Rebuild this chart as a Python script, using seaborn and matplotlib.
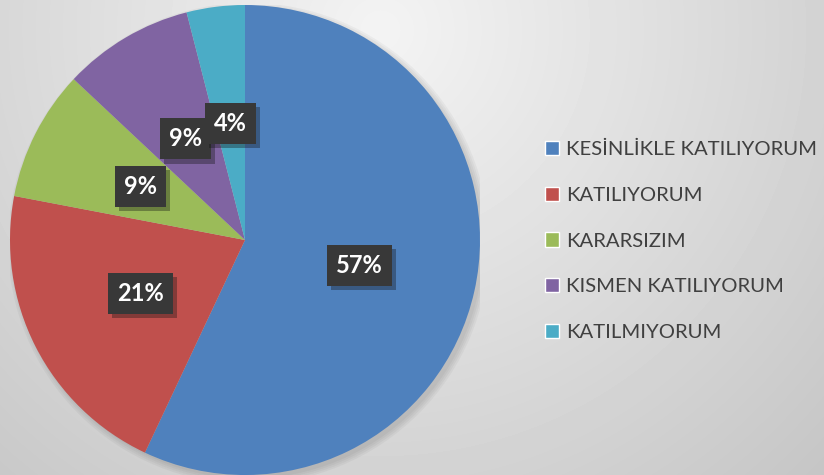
import numpy as np
import matplotlib.pyplot as plt
import matplotlib.patheffects as pe
from matplotlib.patches import Patch, Circle
import seaborn as sns

# survey answers and their shares (%)
categories = ["KESİNLİKLE KATILIYORUM", "KATILIYORUM", "KARARSIZIM",
              "KISMEN KATILIYORUM", "KATILMIYORUM"]
shares = [57, 21, 9, 9, 4]
colors = ["#4F81BD", "#C0504D", "#9BBB59", "#8064A2", "#4BACC6"]

sns.set_theme(style="white")
plt.rcParams['font.family'] = ['Lato', 'DejaVu Sans']

fig = plt.figure(figsize=(8.24, 4.75), dpi=100)

# soft radial gray background
bg = fig.add_axes([0, 0, 1, 1], zorder=-1)
yy, xx = np.mgrid[0:475, 0:824]
r = np.hypot((xx - 380) / 450, (yy - 30) / 450)
bg.imshow(0.955 - 0.13 * r, cmap="gray", vmin=0, vmax=1, aspect="auto")
bg.axis("off")

ax = fig.add_axes([10 / 824, 0, 470 / 824, 470 / 475])

# faint shadow under the pie
for k in range(4):
    ax.add_patch(Circle((0.015, -0.015), 1.0 + 0.008 * k, color="k",
                        alpha=0.04, lw=0, zorder=0.5))

wedges, texts, autotexts = ax.pie(
    shares, colors=colors, startangle=90, counterclock=False,
    autopct=lambda p: f"{p:.0f}%", pctdistance=0.5,
    wedgeprops=dict(linewidth=0),
    textprops=dict(color="white", fontsize=17, fontweight="bold"))
ax.set_xlim(-1, 1)
ax.set_ylim(-1, 1)

for t in autotexts:
    t.set_bbox(dict(boxstyle="square,pad=0.38", fc="#383838", ec="none"))
    t.get_bbox_patch().set_path_effects(
        [pe.SimplePatchShadow(offset=(3, -3), alpha=0.35), pe.Normal()])

fig.legend(handles=[Patch(facecolor=c) for c in colors], labels=categories,
           loc="center left", bbox_to_anchor=(545 / 824, 1 - 241 / 475),
           frameon=False, fontsize=14.6, labelcolor="#404040",
           handlelength=0.7, handleheight=0.7, handletextpad=0.35,
           labelspacing=1.4, borderpad=0, borderaxespad=0)

fig.savefig("out.png", dpi=100)
